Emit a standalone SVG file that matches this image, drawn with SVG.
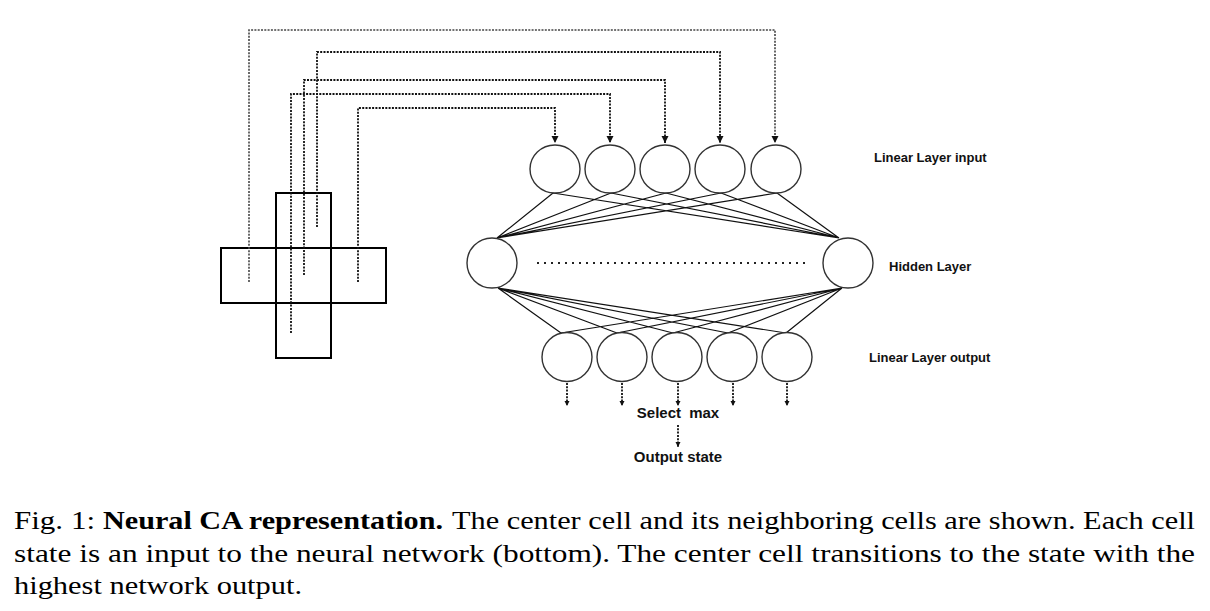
<svg xmlns="http://www.w3.org/2000/svg" width="1210" height="611" viewBox="0 0 1210 611">
<style>
.bg{fill:#fff}
.cell{fill:none;stroke:#000;stroke-width:2}
.node{fill:#fff;stroke:#333;stroke-width:1.4}
.edge{fill:none;stroke:#111;stroke-width:1.2}
.dot{fill:none;stroke:#111;stroke-width:1.8;stroke-dasharray:2 1.3}
.dotg{fill:none;stroke:#444;stroke-width:1.6;stroke-dasharray:2 1.3}
.hdots{fill:none;stroke:#222;stroke-width:2;stroke-dasharray:2 5}
.lbl{font-family:"Liberation Sans",Arial,sans-serif;font-weight:bold;font-size:13px;fill:#111}
.lbl2{font-family:"Liberation Sans",Arial,sans-serif;font-weight:bold;font-size:15px;fill:#111}
.cap{font-family:"Liberation Serif","Times New Roman",serif;font-size:25px;fill:#000}
.capb{font-family:"Liberation Serif","Times New Roman",serif;font-size:25px;font-weight:bold;fill:#000}
</style>
<defs>
<marker id="ah" markerUnits="userSpaceOnUse" markerWidth="8" markerHeight="8" refX="7" refY="4" orient="auto">
<path d="M0,0.5 L7,4 L0,7.5 z" fill="#111"/>
</marker>
<marker id="ahs" markerUnits="userSpaceOnUse" markerWidth="6" markerHeight="6" refX="5" refY="3" orient="auto">
<path d="M0,0.5 L5,3 L0,5.5 z" fill="#111"/>
</marker>
</defs>
<rect class="bg" x="0" y="0" width="1210" height="611"/>

<g id="grid">
<rect class="cell" x="276" y="193" width="55" height="55"/>
<rect class="cell" x="221" y="248" width="55" height="55"/>
<rect class="cell" x="276" y="248" width="55" height="55"/>
<rect class="cell" x="331" y="248" width="55" height="55"/>
<rect class="cell" x="276" y="303" width="55" height="55"/>
</g>

<g id="connectors">
<path class="dotg" d="M249,282 V30 H775 V143" marker-end="url(#ah)"/>
<path class="dot" d="M317,227 V52 H720 V143" marker-end="url(#ah)"/>
<path class="dot" d="M304,275 V80 H665 V143" marker-end="url(#ah)"/>
<path class="dot" d="M291,333 V94 H610 V143" marker-end="url(#ah)"/>
<path class="dot" d="M358,282 V108 H555 V143" marker-end="url(#ah)"/>
<path class="edge" d="M553,193 L497,238 M553,193 L839,238 M611,193 L497,238 M611,193 L839,238 M666,193 L497,238 M666,193 L839,238 M721,193 L497,238 M721,193 L839,238 M777,193 L497,238 M777,193 L839,238"/>
<path class="edge" d="M498,288 L561,333 M842,288 L561,333 M498,288 L617,333 M842,288 L617,333 M498,288 L673,333 M842,288 L673,333 M498,288 L728,333 M842,288 L728,333 M498,288 L786,333 M842,288 L786,333"/>
<path class="hdots" d="M537,263 H808"/>
<path class="dot" d="M567,383 V406" marker-end="url(#ahs)"/>
<path class="dot" d="M622,383 V406" marker-end="url(#ahs)"/>
<path class="dot" d="M678,383 V406" marker-end="url(#ahs)"/>
<path class="dot" d="M733,383 V406" marker-end="url(#ahs)"/>
<path class="dot" d="M787,383 V406" marker-end="url(#ahs)"/>
<path class="dot" d="M678,425 V447" marker-end="url(#ahs)"/>
</g>

<g id="in1"><ellipse class="node" cx="555" cy="169" rx="25" ry="24"/></g>
<g id="in2"><ellipse class="node" cx="610" cy="169" rx="25" ry="24"/></g>
<g id="in3"><ellipse class="node" cx="665" cy="169" rx="25" ry="24"/></g>
<g id="in4"><ellipse class="node" cx="720" cy="169" rx="25" ry="24"/></g>
<g id="in5"><ellipse class="node" cx="776" cy="169" rx="25" ry="24"/></g>

<g id="h1"><circle class="node" cx="492" cy="263" r="25"/></g>
<g id="h2"><circle class="node" cx="848" cy="263" r="25"/></g>

<g id="out1"><ellipse class="node" cx="567" cy="357" rx="25" ry="24.5"/></g>
<g id="out2"><ellipse class="node" cx="622" cy="357" rx="25" ry="24.5"/></g>
<g id="out3"><ellipse class="node" cx="677" cy="357" rx="25" ry="24.5"/></g>
<g id="out4"><ellipse class="node" cx="732" cy="357" rx="25" ry="24.5"/></g>
<g id="out5"><ellipse class="node" cx="787" cy="357" rx="25" ry="24.5"/></g>

<g id="labels">
<text class="lbl" x="874" y="162">Linear Layer input</text>
<text class="lbl" x="889" y="271">Hidden Layer</text>
<text class="lbl" x="869" y="362">Linear Layer output</text>
<text class="lbl2" x="678" y="418" text-anchor="middle" word-spacing="4">Select max</text>
<text class="lbl2" x="678" y="462" text-anchor="middle">Output state</text>
</g>

<g id="caption">
<text class="cap" x="14" y="529" textLength="81" lengthAdjust="spacingAndGlyphs">Fig. 1:</text>
<text class="capb" x="103" y="529" textLength="340" lengthAdjust="spacingAndGlyphs">Neural CA representation.</text>
<text class="cap" x="452" y="529" textLength="743" lengthAdjust="spacingAndGlyphs">The center cell and its neighboring cells are shown. Each cell</text>
<text class="cap" x="14" y="562" textLength="1181" lengthAdjust="spacingAndGlyphs">state is an input to the neural network (bottom). The center cell transitions to the state with the</text>
<text class="cap" x="14" y="594" textLength="288" lengthAdjust="spacingAndGlyphs">highest network output.</text>
</g>
</svg>
